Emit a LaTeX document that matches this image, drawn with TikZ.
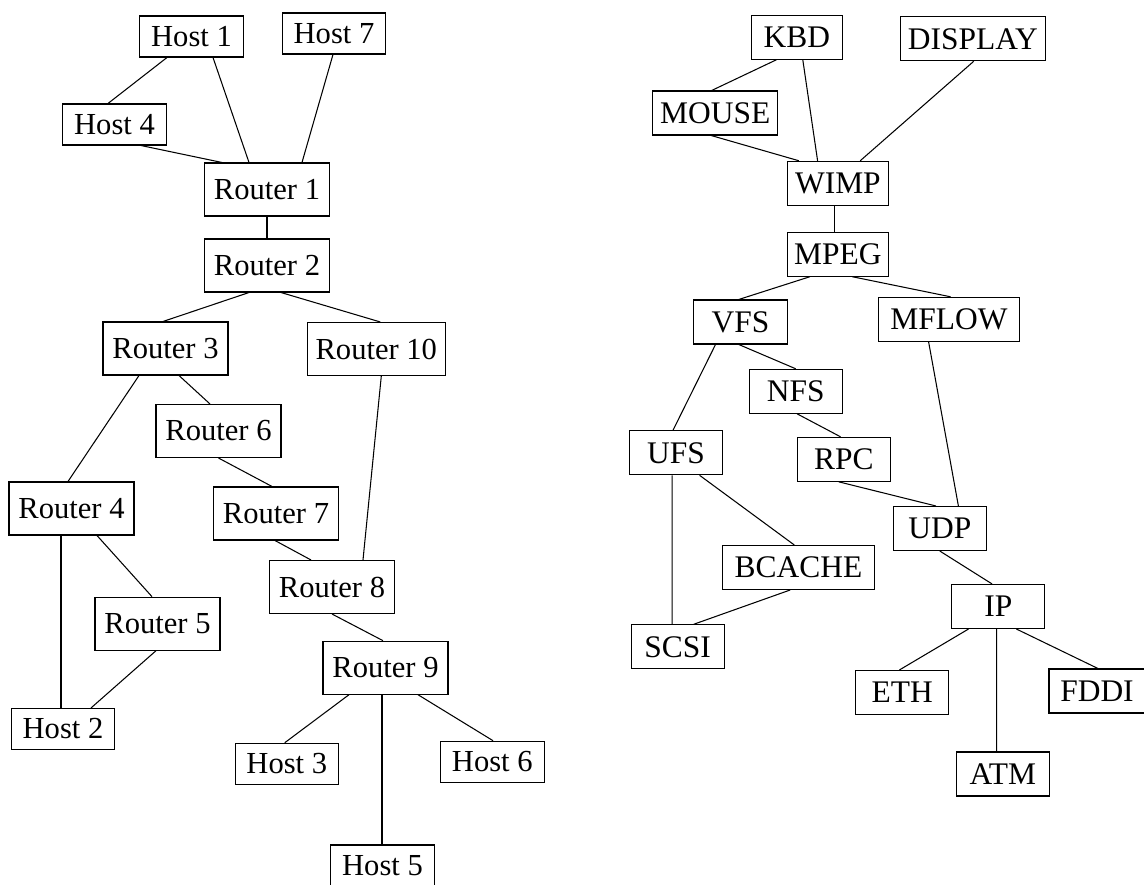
\documentclass[tikz,border=0pt]{standalone}
\usepackage{fontspec}
\setmainfont{Liberation Serif}
\usetikzlibrary{calc}

\tikzset{
	netbox/.style={draw, line width=0.6pt, inner sep=0pt, minimum width=2.07cm, minimum height=0.82cm, font=\fontsize{17.4}{20}\selectfont},
	routerbox/.style={netbox, minimum width=2.5cm, minimum height=1.06cm},
	layerbox/.style={draw, line width=0.6pt, inner sep=0pt, minimum width=1.86cm, minimum height=0.88cm, font=\fontsize{17.9}{20}\selectfont},
	link/.style={line width=0.6pt}
}

\begin{document}
\begin{tikzpicture}[x=0.02cm, y=-0.02cm]
		%%%%% START %%%%%
		\useasboundingbox (0, 0) rectangle (1144, 885);
		
		% network
		\node[netbox] (h1) at (191.5, 36.5) {Host 1};
		\node[netbox] (h7) at (334, 33.5) {Host 7};
		\node[netbox] (h4) at (114.5, 124.5) {Host 4};
		\node[routerbox] (r1) at (267, 189.5) {Router 1};
		\node[routerbox] (r2) at (267, 265.5) {Router 2};
		\node[routerbox] (r3) at (165.5, 348.5) {Router 3};
		\node[routerbox, minimum width=2.75cm] (r10) at (376.3, 349) {Router 10};
		\node[routerbox] (r6) at (218.5, 431) {Router 6};
		\node[routerbox] (r4) at (71.5, 508.5) {Router 4};
		\node[routerbox] (r7) at (276, 513.5) {Router 7};
		\node[routerbox] (r8) at (332, 587) {Router 8};
		\node[routerbox] (r5) at (157.5, 623.7) {Router 5};
		\node[netbox] (h2) at (63, 729) {Host 2};
		\node[routerbox] (r9) at (385.5, 667.7) {Router 9};
		\node[netbox] (h3) at (286.8, 763.7) {Host 3};
		\node[netbox] (h6) at (492.3, 761.7) {Host 6};
		\node[netbox] (h5) at (382.5, 865.5) {Host 5};
		
		\draw[link] ($(h1.south)+(-24.5,0)$) -- ($(h4.north)+(-6.5,0)$);
		\draw[link] ($(h1.south)+(21.5,0)$) -- ($(r1.north)+(-18,0)$);
		\draw[link] ($(h7.south)+(-1,0)$) -- ($(r1.north)+(35,0)$);
		\draw[link] ($(h4.south)+(26.5,0)$) -- ($(r1.north)+(-45,0)$);
		\draw[link] (r1.south) -- (r2.north);
		\draw[link] ($(r2.south)+(-18,0)$) -- ($(r3.north)+(-2.5,0)$);
		\draw[link] ($(r2.south)+(14,0)$) -- ($(r10.north)+(4,0)$);
		\draw[link] ($(r3.south)+(-26.5,0)$) -- ($(r4.north)+(-3.5,0)$);
		\draw[link] ($(r3.south)+(13.5,0)$) -- ($(r6.north)+(-8.5,0)$);
		\draw[link] (r6.south) -- ($(r7.north)+(-4,0)$);
		\draw[link] ($(r7.south)+(-1,0)$) -- ($(r8.north)+(-21,0)$);
		\draw[link] ($(r10.south)+(5,0)$) -- ($(r8.north)+(31,0)$);
		\draw[link] ($(r4.south)+(-10.5,0)$) -- ($(h2.north)+(-2,0)$);
		\draw[link] ($(r4.south)+(25.5,0)$) -- ($(r5.north)+(-5.5,0)$);
		\draw[link] ($(r5.south)+(-1.5,0)$) -- ($(h2.north)+(28,0)$);
		\draw[link] (r8.south) -- ($(r9.north)+(-2.5,0)$);
		\draw[link] ($(r9.south)+(-36.5,0)$) -- ($(h3.north)+(-2,0)$);
		\draw[link] ($(r9.south)+(-3.5,0)$) -- ($(h5.north)+(-0.5,0)$);
		\draw[link] ($(r9.south)+(32.5,0)$) -- ($(h6.north)+(0.7,0)$);
		
		% protocol graph
		\node[layerbox, minimum width=1.82cm] (kbd) at (796.8, 37.3) {KBD};
		\node[layerbox, minimum width=2.9cm] (display) at (972.9, 38.8) {DISPLAY};
		\node[layerbox, minimum width=2.51cm] (mouse) at (715.2, 113) {MOUSE};
		\node[layerbox, minimum width=2.02cm] (wimp) at (837.9, 183.3) {WIMP};
		\node[layerbox, minimum width=2.02cm] (mpeg) at (837.9, 254.2) {MPEG};
		\node[layerbox, minimum width=1.87cm] (vfs) at (740.5, 322) {VFS};
		\node[layerbox, minimum width=2.83cm] (mflow) at (949, 319.3) {MFLOW};
		\node[layerbox] (nfs) at (795.7, 391.3) {NFS};
		\node[layerbox] (ufs) at (676, 452.8) {UFS};
		\node[layerbox] (rpc) at (843.9, 459.3) {RPC};
		\node[layerbox] (udp) at (939.8, 528.5) {UDP};
		\node[layerbox, minimum width=3.04cm] (bcache) at (798.5, 567.5) {BCACHE};
		\node[layerbox] (ip) at (998.3, 606.5) {IP};
		\node[layerbox] (scsi) at (677.7, 646.8) {SCSI};
		\node[layerbox] (eth) at (902.2, 692.5) {ETH};
		\node[layerbox, minimum width=1.92cm] (fddi) at (1097, 691) {FDDI};
		\node[layerbox] (atm) at (1002.8, 774) {ATM};
		
		\draw[link] ($(kbd.south)+(-20.5,0)$) -- ($(mouse.north)+(-3.5,0)$);
		\draw[link] ($(kbd.south)+(6,0)$) -- ($(wimp.north)+(-20.3,0)$);
		\draw[link] ($(display.south)+(0.8,0)$) -- ($(wimp.north)+(22.3,0)$);
		\draw[link] ($(mouse.south)+(-4,0)$) -- ($(wimp.north)+(-39,0)$);
		\draw[link] ($(wimp.south)+(-3.3,0)$) -- ($(mpeg.north)+(-3.3,0)$);
		\draw[link] ($(mpeg.south)+(-28,0)$) -- ($(vfs.north)+(-1.7,0)$);
		\draw[link] ($(mpeg.south)+(14.4,0)$) -- ($(mflow.north)+(1.5,0)$);
		\draw[link] ($(vfs.south)+(-25,0)$) -- ($(ufs.north)+(-3,0)$);
		\draw[link] ($(vfs.south)+(-1.7,0)$) -- (nfs.north);
		\draw[link] ($(nfs.south)+(1.4,0)$) -- ($(rpc.north)+(-3.4,0)$);
		\draw[link] ($(mflow.south)+(-20.4,0)$) -- ($(udp.north)+(18.6,0)$);
		\draw[link] ($(rpc.south)+(-5.2,0)$) -- ($(udp.north)+(-3.9,0)$);
		\draw[link] ($(ufs.south)+(23.6,0)$) -- ($(bcache.north)+(-4.2,0)$);
		\draw[link] ($(ufs.south)+(-3.8,0)$) -- ($(scsi.north)+(-5.5,0)$);
		\draw[link] (udp.south) -- ($(ip.north)+(-6.2,0)$);
		\draw[link] ($(bcache.south)+(-8.4,0)$) -- ($(scsi.north)+(16,0)$);
		\draw[link] ($(ip.south)+(-29.8,0)$) -- ($(eth.north)+(-2.8,0)$);
		\draw[link] ($(ip.south)+(-1.7,0)$) -- ($(atm.north)+(-6.2,0)$);
		\draw[link] ($(ip.south)+(18.1,0)$) -- ($(fddi.north)+(0.9,0)$);
		
		%%%%% END %%%%%
	\end{tikzpicture}
\end{document}
